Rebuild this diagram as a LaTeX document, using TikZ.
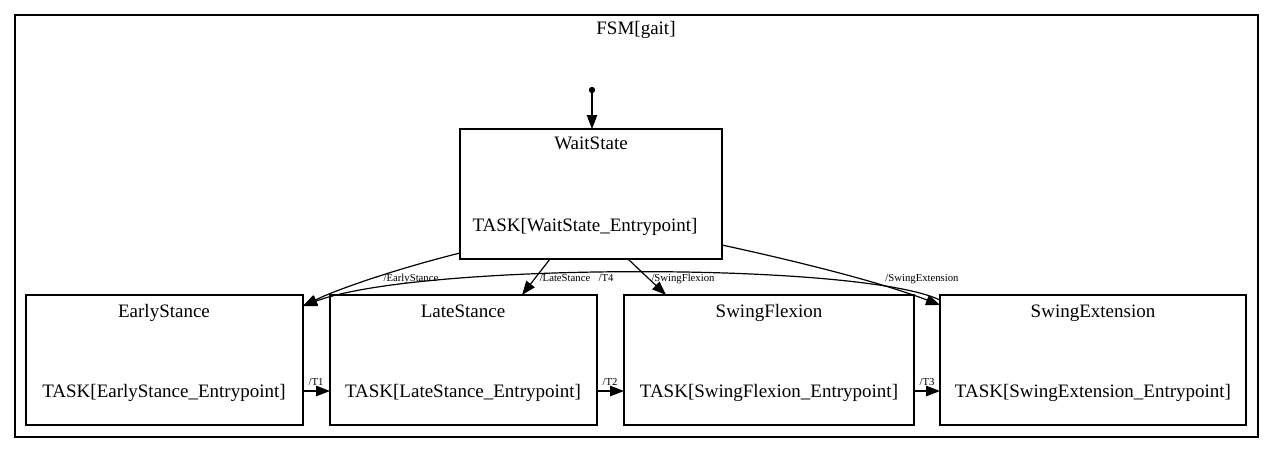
\documentclass[tikz,border=0pt]{standalone}
\usepackage{fontspec}
\setmainfont{Liberation Serif}
\usetikzlibrary{arrows.meta}
\begin{document}
\begin{tikzpicture}[x=1pt,y=-1pt,
  every node/.style={inner sep=0pt,outer sep=0pt},
  statebox/.style={draw,line width=1.2pt,rectangle,anchor=north west},
  big/.style={font=\fontsize{19}{22}\selectfont,anchor=base},
  small/.style={font=\fontsize{10.7}{12}\selectfont,anchor=base},
  edge/.style={line width=1.2pt,-{Triangle[length=14pt,width=10.5pt]}},
  ]
\useasboundingbox (0,0) rectangle (1273,453);
\draw[line width=1.2pt] (15,15) rectangle (1258,437);
\node[big] (title) at (636,34) {FSM[gait]};
% initial
\fill (592,90) circle (3.2);
\coordinate (init) at (592,90);
% states
\node[statebox,minimum width=262pt,minimum height=130pt] (wait) at (460,129) {};
\node[big] (waitT) at (591,149) {WaitState};
\node[big] (waitE) at (585,231) {TASK[WaitState\_Entrypoint]};
\node[statebox,minimum width=277pt,minimum height=130pt] (early) at (26,295) {};
\node[big] (earlyT) at (164,317) {EarlyStance};
\node[big] (earlyE) at (164,397) {TASK[EarlyStance\_Entrypoint]};
\node[statebox,minimum width=267pt,minimum height=130pt] (late) at (330,295) {};
\node[big] (lateT) at (463,317) {LateStance};
\node[big] (lateE) at (463,397) {TASK[LateStance\_Entrypoint]};
\node[statebox,minimum width=290pt,minimum height=130pt] (flex) at (624,295) {};
\node[big] (flexT) at (769,317) {SwingFlexion};
\node[big] (flexE) at (769,397) {TASK[SwingFlexion\_Entrypoint]};
\node[statebox,minimum width=306pt,minimum height=130pt] (ext) at (940,295) {};
\node[big] (extT) at (1093,317) {SwingExtension};
\node[big] (extE) at (1093,397) {TASK[SwingExtension\_Entrypoint]};
% edges
\draw[edge] (init) -- (wait.north -| init);
\draw[edge] ([yshift=6pt]wait.south west) .. controls (400,268) and (340,288) .. ([yshift=-11pt]early.north east);
\draw[edge] ([xshift=90pt]wait.south west) -- ([xshift=192pt]late.north west);
\draw[edge] ([xshift=168pt]wait.south west) -- ([xshift=42pt]flex.north west);
\draw[edge] ([yshift=14pt]wait.south east) .. controls (800,262) and (880,282) .. ([yshift=-10pt]ext.north west);
\draw[edge] ([yshift=-5pt]ext.north west) .. controls (860,262) and (420,262) .. ([yshift=-11pt]early.north east);
\draw[edge] (early.east |- 0,391) -- (late.west |- 0,391);
\draw[edge] (late.east |- 0,391) -- (flex.west |- 0,391);
\draw[edge] (flex.east |- 0,391) -- (ext.west |- 0,391);
% labels
\node[small] (lEarly) at (411,281) {/EarlyStance};
\node[small] (lLate) at (565,281) {/LateStance};
\node[small] (lT4) at (606,281) {/T4};
\node[small] (lFlex) at (683,281) {/SwingFlexion};
\node[small] (lExt) at (922,281) {/SwingExtension};
\node[small] (lT1) at (316,385) {/T1};
\node[small] (lT2) at (610,385) {/T2};
\node[small] (lT3) at (927,385) {/T3};
\end{tikzpicture}
\end{document}
